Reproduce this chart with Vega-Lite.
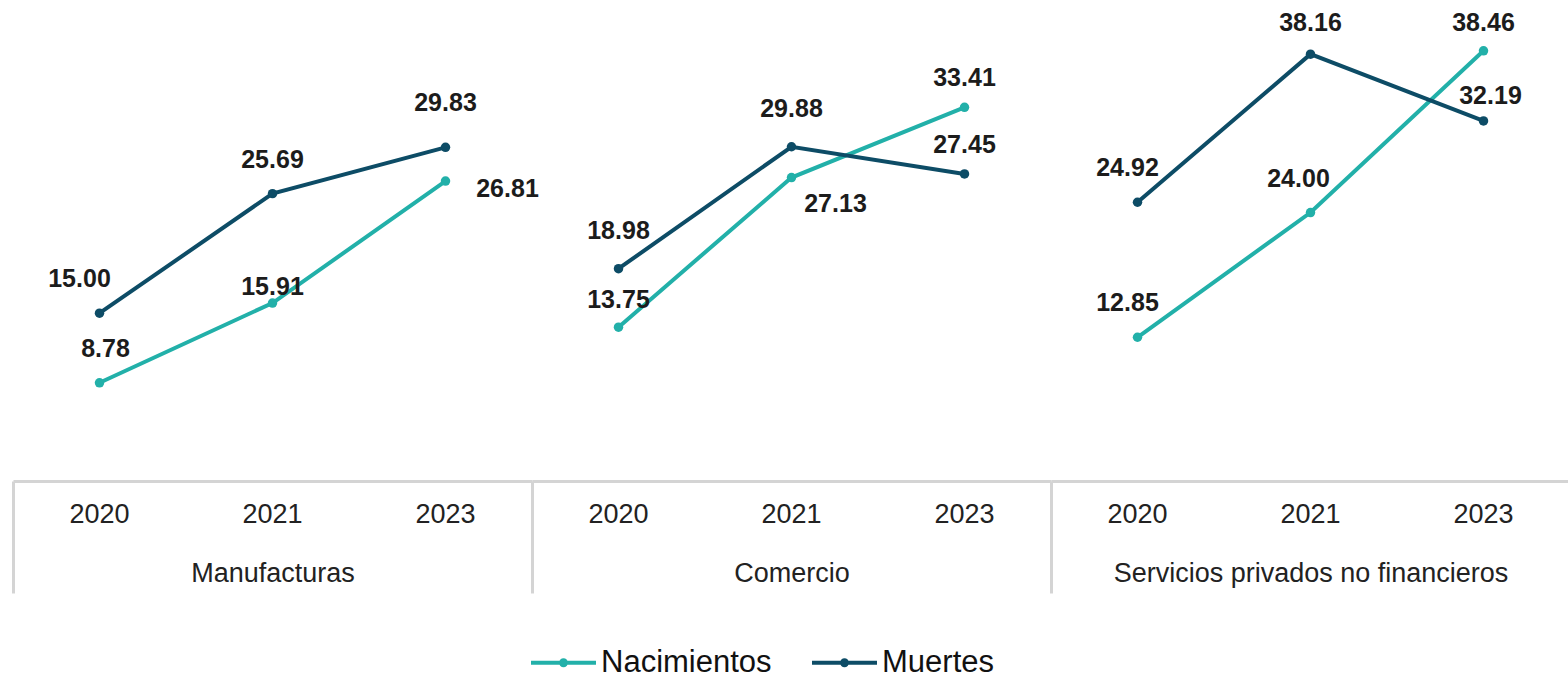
{
  "$schema": "https://vega.github.io/schema/vega-lite/v6.json",
  "padding": {"left": 11, "top": 0, "right": 0, "bottom": 0},
  "background": "white",
  "bounds": "flush",
  "spacing": 0,
  "data": {"values": [
    {"sector": "Manufacturas", "year": "2020", "serie": "Nacimientos", "value": 8.78},
    {"sector": "Manufacturas", "year": "2021", "serie": "Nacimientos", "value": 15.91},
    {"sector": "Manufacturas", "year": "2023", "serie": "Nacimientos", "value": 26.81},
    {"sector": "Manufacturas", "year": "2020", "serie": "Muertes", "value": 15.00},
    {"sector": "Manufacturas", "year": "2021", "serie": "Muertes", "value": 25.69},
    {"sector": "Manufacturas", "year": "2023", "serie": "Muertes", "value": 29.83},
    {"sector": "Comercio", "year": "2020", "serie": "Nacimientos", "value": 13.75},
    {"sector": "Comercio", "year": "2021", "serie": "Nacimientos", "value": 27.13},
    {"sector": "Comercio", "year": "2023", "serie": "Nacimientos", "value": 33.41},
    {"sector": "Comercio", "year": "2020", "serie": "Muertes", "value": 18.98},
    {"sector": "Comercio", "year": "2021", "serie": "Muertes", "value": 29.88},
    {"sector": "Comercio", "year": "2023", "serie": "Muertes", "value": 27.45},
    {"sector": "Servicios privados no financieros", "year": "2020", "serie": "Nacimientos", "value": 12.85},
    {"sector": "Servicios privados no financieros", "year": "2021", "serie": "Nacimientos", "value": 24.00},
    {"sector": "Servicios privados no financieros", "year": "2023", "serie": "Nacimientos", "value": 38.46},
    {"sector": "Servicios privados no financieros", "year": "2020", "serie": "Muertes", "value": 24.92},
    {"sector": "Servicios privados no financieros", "year": "2021", "serie": "Muertes", "value": 38.16},
    {"sector": "Servicios privados no financieros", "year": "2023", "serie": "Muertes", "value": 32.19}
  ]},
  "hconcat": [
    {
      "transform": [{"filter": "datum.sector === 'Manufacturas'"}],
      "width": 519, "height": 481,
      "encoding": {
        "x": {"field": "year", "type": "nominal", "sort": ["2020", "2021", "2023"],
              "scale": {"type": "band", "paddingInner": 0, "paddingOuter": 0},
              "axis": {"title": "Manufacturas", "tickColor": {"condition": {"test": "datum.value === '2020'", "value": "#d4d4d4"}, "value": "transparent"}}},
        "y": {"field": "value", "type": "quantitative", "scale": {"domain": [0, 43], "nice": false}, "axis": null},
        "color": {"field": "serie", "type": "nominal", "scale": {"domain": ["Nacimientos", "Muertes"], "range": ["#22b0a9", "#0d4c66"]}, "legend": {"title": null}}
      },
      "layer": [
        {"mark": {"type": "line", "strokeWidth": 4, "point": {"filled": true, "size": 90}}},
        {"mark": {"type": "text", "font": "Liberation Sans", "fontSize": 25, "fontWeight": "bold", "baseline": "middle",
                  "dx": {"expr": "datum.serie === 'Nacimientos' && datum.year === '2023' ? 62 : (datum.year === '2020' && datum.serie === 'Muertes' ? -20 : (datum.year === '2020' ? 6 : 0))"},
                  "dy": {"expr": "datum.serie === 'Nacimientos' && datum.year === '2023' ? 8 : (datum.serie === 'Nacimientos' && datum.year === '2021' ? -16 : (datum.year === '2023' ? -44 : -34))"}},
         "encoding": {"text": {"field": "value", "type": "quantitative", "format": ".2f"}, "color": {"value": "#1c1c1c"}}}
      ]
    },
    {
      "transform": [{"filter": "datum.sector === 'Comercio'"}],
      "width": 519, "height": 481,
      "encoding": {
        "x": {"field": "year", "type": "nominal", "sort": ["2020", "2021", "2023"],
              "scale": {"type": "band", "paddingInner": 0, "paddingOuter": 0},
              "axis": {"title": "Comercio", "tickColor": {"condition": {"test": "datum.value === '2020'", "value": "#d4d4d4"}, "value": "transparent"}}},
        "y": {"field": "value", "type": "quantitative", "scale": {"domain": [0, 43], "nice": false}, "axis": null},
        "color": {"field": "serie", "type": "nominal", "scale": {"domain": ["Nacimientos", "Muertes"], "range": ["#22b0a9", "#0d4c66"]}, "legend": {"title": null}}
      },
      "layer": [
        {"mark": {"type": "line", "strokeWidth": 4, "point": {"filled": true, "size": 90}}},
        {"mark": {"type": "text", "font": "Liberation Sans", "fontSize": 25, "fontWeight": "bold", "baseline": "middle",
                  "dx": {"expr": "datum.serie === 'Nacimientos' && datum.year === '2021' ? 44 : 0"},
                  "dy": {"expr": "datum.serie === 'Nacimientos' && datum.year === '2021' ? 26 : (datum.serie === 'Nacimientos' && datum.year === '2020' ? -27 : (datum.year === '2023' ? -29 : -38))"}},
         "encoding": {"text": {"field": "value", "type": "quantitative", "format": ".2f"}, "color": {"value": "#1c1c1c"}}}
      ]
    },
    {
      "transform": [{"filter": "datum.sector === 'Servicios privados no financieros'"}],
      "width": 519, "height": 481,
      "encoding": {
        "x": {"field": "year", "type": "nominal", "sort": ["2020", "2021", "2023"],
              "scale": {"type": "band", "paddingInner": 0, "paddingOuter": 0},
              "axis": {"title": "Servicios privados no financieros", "tickColor": {"condition": {"test": "datum.value === '2020'", "value": "#d4d4d4"}, "value": "transparent"}}},
        "y": {"field": "value", "type": "quantitative", "scale": {"domain": [0, 43], "nice": false}, "axis": null},
        "color": {"field": "serie", "type": "nominal", "scale": {"domain": ["Nacimientos", "Muertes"], "range": ["#22b0a9", "#0d4c66"]}, "legend": {"title": null}}
      },
      "layer": [
        {"mark": {"type": "line", "strokeWidth": 4, "point": {"filled": true, "size": 90}}},
        {"mark": {"type": "text", "font": "Liberation Sans", "fontSize": 25, "fontWeight": "bold", "baseline": "middle",
                  "dx": {"expr": "datum.year === '2020' ? -10 : (datum.year === '2021' && datum.serie === 'Nacimientos' ? -12 : (datum.year === '2023' && datum.serie === 'Muertes' ? 7 : 0))"},
                  "dy": {"expr": "datum.year === '2023' && datum.serie === 'Muertes' ? -25 : (datum.year === '2023' ? -28 : (datum.year === '2021' && datum.serie === 'Muertes' ? -31 : -34))"}},
         "encoding": {"text": {"field": "value", "type": "quantitative", "format": ".2f"}, "color": {"value": "#1c1c1c"}}}
      ]
    }
  ],
  "config": {
    "view": {"stroke": null},
    "font": "Liberation Sans",
    "axis": {
      "domainColor": "#d4d4d4", "domainWidth": 3,
      "bandPosition": 0, "tickSize": 112, "tickWidth": 3,
      "labelPadding": -92, "labelAngle": 0,
      "labelFont": "Liberation Sans", "labelFontSize": 27, "labelColor": "#222222",
      "titleFont": "Liberation Sans", "titleFontSize": 27, "titleFontWeight": "normal", "titleColor": "#222222",
      "titleY": 92, "titleBaseline": "middle",
      "grid": false
    },
    "legend": {
      "orient": "none", "direction": "horizontal", "legendX": 532, "legendY": 644,
      "symbolType": "M-2,0H2M-0.15,0A0.15,0.15,0,1,1,0.15,0A0.15,0.15,0,1,1,-0.15,0",
      "symbolSize": 1056, "symbolStrokeWidth": 4,
      "labelFont": "Liberation Sans", "labelFontSize": 31, "labelColor": "#111111", "labelLimit": 0,
      "labelOffset": 19, "columnPadding": 32
    }
  }
}
